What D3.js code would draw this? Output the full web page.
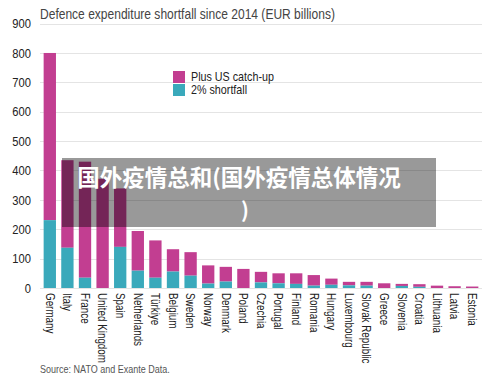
<!DOCTYPE html>
<html>
<head>
<meta charset="utf-8">
<script src="https://cdn.jsdelivr.net/npm/d3@7"></script>
<style>
body { margin: 0; background: #fff; }
</style>
</head>
<body>
<div id="chart"></div>
<script>
// Data
var countries = ['Germany', 'Italy', 'France', 'United Kingdom', 'Spain', 'Netherlands', 'Türkiye', 'Belgium',
  'Sweden', 'Norway', 'Denmark', 'Poland', 'Czechia', 'Portugal', 'Finland', 'Romania', 'Hungary',
  'Luxembourg', 'Slovak Republic', 'Greece', 'Slovenia', 'Croatia', 'Lithuania', 'Latvia', 'Estonia']
// 2% shortfall (teal)
var shortfall = [231, 137, 35, 0, 140, 59, 35, 56, 42, 15, 22, 0, 19, 16, 14, 8, 11, 9, 8, 0, 7, 4, 0, 0, 0]
// total incl. US catch-up (top of bar)
var totals = [800, 435, 430, 372, 339, 194, 162, 132, 122, 77, 72, 65, 55, 50, 50, 44, 32, 21, 21, 16, 14, 13, 8, 6, 5]
var yTicks = [0, 100, 200, 300, 400, 500, 600, 700, 800, 900]
var seriesNames = ['Plus US catch-up', '2% shortfall']

// Settings
var settings = {}
settings.width = 500
settings.height = 386
settings.font = '"Liberation Sans", Arial, sans-serif'
settings.squeeze = 0.86 // fake a narrow font
settings.magenta = '#c23e91'
settings.teal = '#3aa9bb'
settings.grid = '#e4e4e4'

var svg = d3.select('#chart').append('svg')
  .attr('width', settings.width)
  .attr('height', settings.height)
  .style('font-family', settings.font)

var x = d3.scaleBand()
  .domain(countries)
  .range([41, 481])
  .paddingInner(0.3)
  .paddingOuter(0.15)

var y = d3.scaleLinear()
  .domain([0, 900])
  .range([288, 23.6])

// Gridlines
svg.append('g').selectAll('line')
  .data(yTicks)
  .join('line')
  .attr('x1', 40)
  .attr('x2', 482)
  .attr('y1', function(d){ return Math.round(y(d)) + 0.5 })
  .attr('y2', function(d){ return Math.round(y(d)) + 0.5 })
  .attr('stroke', settings.grid)
  .attr('stroke-width', 1)

// Y axis labels
var yAxis = d3.axisLeft(y).tickValues(yTicks).tickSize(0).tickPadding(0)
svg.append('g')
  .attr('transform', 'translate(31,0)')
  .call(yAxis)
  .call(function(g){ g.select('.domain').remove() })
  .selectAll('text')
  .attr('font-size', 13)
  .attr('font-family', settings.font)
  .attr('fill', '#222')
  .attr('transform', 'scale(' + settings.squeeze + ',1)')

// Bars: magenta total behind, teal on bottom
var rows = countries.map(function(c, i){ return {name: c, total: totals[i], base: shortfall[i]} })

svg.append('g').selectAll('rect')
  .data(rows)
  .join('rect')
  .attr('x', function(d){ return x(d.name) })
  .attr('width', x.bandwidth())
  .attr('y', function(d){ return y(d.total) })
  .attr('height', function(d){ return y(d.base) - y(d.total) })
  .attr('fill', settings.magenta)

svg.append('g').selectAll('rect')
  .data(rows.filter(function(d){ return d.base > 0 }))
  .join('rect')
  .attr('x', function(d){ return x(d.name) })
  .attr('width', x.bandwidth())
  .attr('y', function(d){ return y(d.base) })
  .attr('height', function(d){ return y(0) - y(d.base) })
  .attr('fill', settings.teal)

// Country labels
svg.append('g').selectAll('text')
  .data(countries)
  .join('text')
  .attr('transform', function(d){
    return 'translate(' + (x(d) + x.bandwidth() / 2) + ',293) rotate(90) scale(0.82,1)'
  })
  .attr('dy', '0.35em')
  .attr('font-size', 12)
  .attr('fill', '#222')
  .text(function(d){ return d })

// Title
svg.append('text')
  .attr('transform', 'translate(40,19) scale(' + settings.squeeze + ',1)')
  .attr('font-size', 14)
  .attr('fill', '#444')
  .text('Defence expenditure shortfall since 2014 (EUR billions)')

// Legend
var legend = svg.append('g').attr('transform', 'translate(173,71)')
legend.selectAll('rect')
  .data(seriesNames)
  .join('rect')
  .attr('x', 0)
  .attr('y', function(d, i){ return i * 13 })
  .attr('width', 12)
  .attr('height', 12)
  .attr('fill', function(d, i){ return i === 0 ? settings.magenta : settings.teal })
legend.selectAll('text')
  .data(seriesNames)
  .join('text')
  .attr('transform', function(d, i){ return 'translate(18,' + (i * 13 + 6) + ') scale(' + settings.squeeze + ',1)' })
  .attr('dy', '0.35em')
  .attr('font-size', 12.5)
  .attr('fill', '#222')
  .text(function(d){ return d })

// Source
svg.append('text')
  .attr('transform', 'translate(40,373) scale(0.82,1)')
  .attr('font-size', 11)
  .attr('fill', '#555')
  .text('Source: NATO and Exante Data.')

// Watermark overlay
svg.append('rect')
  .attr('x', 62)
  .attr('y', 158)
  .attr('width', 374)
  .attr('height', 69)
  .attr('fill', 'rgba(0,0,0,0.4)')

var wm = svg.append('g')
  .attr('text-anchor', 'middle')
  .attr('font-family', '"Noto Sans CJK SC", sans-serif')
  .attr('font-weight', 'bold')
  .attr('fill', '#fff')
wm.append('text').attr('x', 239).attr('y', 186).attr('font-size', 22.5).text('国外疫情总和(国外疫情总体情况')
wm.append('text').attr('x', 245).attr('y', 218).attr('font-size', 21).text(')')
</script>
</body>
</html>
